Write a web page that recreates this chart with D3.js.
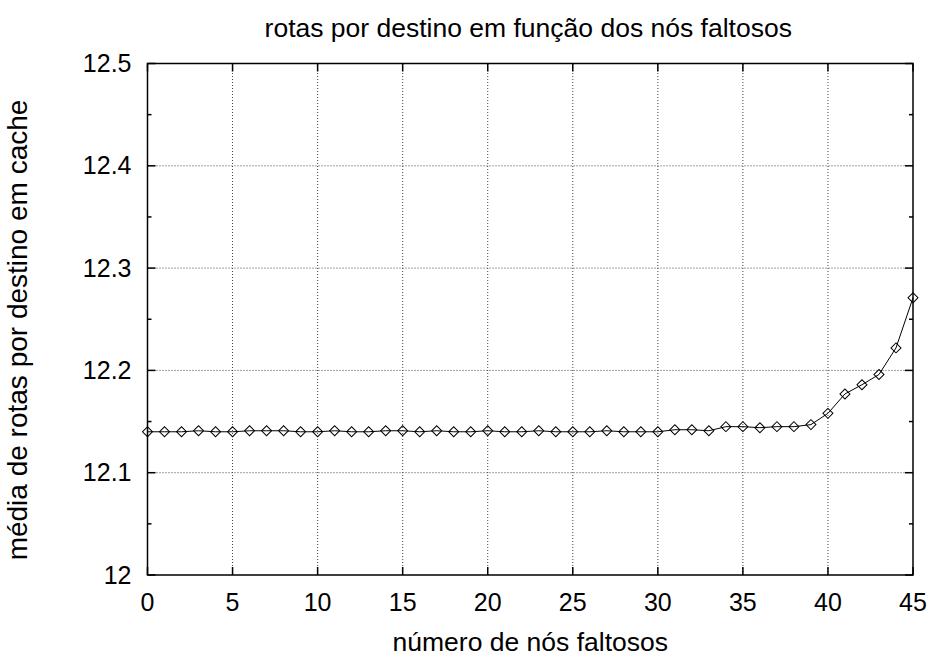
<!DOCTYPE html>
<html>
<head>
<meta charset="utf-8">
<script src="https://cdn.jsdelivr.net/npm/d3@7"></script>
<style>
  body { margin: 0; background: #fff; }
  text { font-family: "Liberation Sans", Arial, sans-serif; fill: #000; }
</style>
</head>
<body>
<svg id="chart" width="933" height="657"></svg>
<script>
const title = 'rotas por destino em função dos nós faltosos'
const xLabel = 'número de nós faltosos'
const yLabel = 'média de rotas por destino em cache'

const failedNodes = d3.range(0, 46)
const avgRoutes = [
  12.140, 12.140, 12.140, 12.141, 12.140, 12.140, 12.141, 12.141, 12.141, 12.140,
  12.140, 12.141, 12.140, 12.140, 12.141, 12.141, 12.140, 12.141, 12.140, 12.140,
  12.141, 12.140, 12.140, 12.141, 12.140, 12.140, 12.140, 12.141, 12.140, 12.140,
  12.140, 12.142, 12.142, 12.141, 12.145, 12.145, 12.144, 12.145, 12.145, 12.147,
  12.158, 12.177, 12.186, 12.196, 12.222, 12.271
]

const xTicks = [0, 5, 10, 15, 20, 25, 30, 35, 40, 45]
const yTicks = [12, 12.1, 12.2, 12.3, 12.4, 12.5]
const yMinorTicks = [12.05, 12.15, 12.25, 12.35, 12.45]

const svg = d3.select('#chart')
const margin = { left: 147.5, right: 20, top: 63.5, bottom: 82 }
const W = 933, H = 657

const x = d3.scaleLinear().domain([0, 45]).range([margin.left, W - margin.right])
const y = d3.scaleLinear().domain([12, 12.5]).range([H - margin.bottom, margin.top])

// grid
const grid = svg.append('g')
grid.selectAll('.gx').data(xTicks.slice(1, -1)).enter().append('line')
  .attr('x1', d => x(d)).attr('x2', d => x(d))
  .attr('y1', y(12)).attr('y2', y(12.5))
  .attr('stroke', '#444').attr('stroke-width', 1).attr('stroke-dasharray', '1,2')
grid.selectAll('.gy').data(yTicks.slice(1, -1)).enter().append('line')
  .attr('y1', d => y(d)).attr('y2', d => y(d))
  .attr('x1', x(0)).attr('x2', x(45))
  .attr('stroke', '#444').attr('stroke-width', 1).attr('stroke-dasharray', '1,2')

// ticks, inside on all four sides
const ticks = svg.append('g').attr('stroke', '#000').attr('stroke-width', 1.5)
xTicks.forEach(d => {
  ticks.append('line').attr('x1', x(d)).attr('x2', x(d)).attr('y1', y(12)).attr('y2', y(12) - 8)
  ticks.append('line').attr('x1', x(d)).attr('x2', x(d)).attr('y1', y(12.5)).attr('y2', y(12.5) + 8)
})
yTicks.forEach(d => {
  ticks.append('line').attr('y1', y(d)).attr('y2', y(d)).attr('x1', x(0)).attr('x2', x(0) + 8)
  ticks.append('line').attr('y1', y(d)).attr('y2', y(d)).attr('x1', x(45)).attr('x2', x(45) - 8)
})
yMinorTicks.forEach(d => {
  ticks.append('line').attr('y1', y(d)).attr('y2', y(d)).attr('x1', x(0)).attr('x2', x(0) + 4)
  ticks.append('line').attr('y1', y(d)).attr('y2', y(d)).attr('x1', x(45)).attr('x2', x(45) - 4)
})

// frame
svg.append('rect')
  .attr('x', x(0)).attr('y', y(12.5))
  .attr('width', x(45) - x(0)).attr('height', y(12) - y(12.5))
  .attr('fill', 'none').attr('stroke', '#000').attr('stroke-width', 1.5)

// tick labels
svg.append('g').selectAll('text').data(xTicks).enter().append('text')
  .attr('x', d => x(d)).attr('y', y(12) + 36)
  .attr('text-anchor', 'middle').attr('font-size', 25)
  .text(d => d)
svg.append('g').selectAll('text').data(yTicks).enter().append('text')
  .attr('x', x(0) - 16).attr('y', d => y(d) + 8.5)
  .attr('text-anchor', 'end').attr('font-size', 25)
  .text(d => d3.format('')(d))

// line + markers
const line = d3.line().x(d => x(d[0])).y(d => y(d[1]))
const pts = failedNodes.map((n, i) => [n, avgRoutes[i]])
svg.append('path').datum(pts).attr('d', line)
  .attr('fill', 'none').attr('stroke', '#000').attr('stroke-width', 1)
svg.append('g').selectAll('path').data(pts).enter().append('path')
  .attr('d', d3.symbol().type(d3.symbolSquare).size(50))
  .attr('transform', d => `translate(${x(d[0])},${y(d[1])}) rotate(45)`)
  .attr('fill', 'none').attr('stroke', '#000').attr('stroke-width', 1)

// titles
svg.append('text').attr('x', (x(0) + x(45)) / 2 - 2).attr('y', 37)
  .attr('text-anchor', 'middle').attr('font-size', 26.5).text(title)
svg.append('text').attr('x', (x(0) + x(45)) / 2).attr('y', 651)
  .attr('text-anchor', 'middle').attr('font-size', 26.5).text(xLabel)
svg.append('text')
  .attr('transform', `translate(27,330) rotate(-90)`)
  .attr('text-anchor', 'middle').attr('font-size', 28).text(yLabel)
</script>
</body>
</html>
